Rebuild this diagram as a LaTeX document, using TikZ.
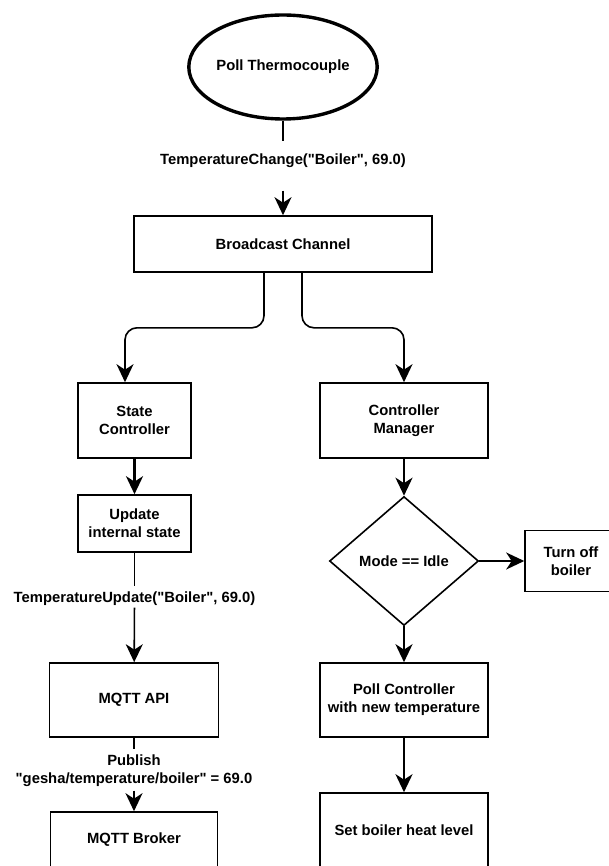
\documentclass[tikz,border=0pt]{standalone}
\usepackage{fontspec}
\setmainfont{Liberation Sans}
\usetikzlibrary{arrows.meta,shapes.geometric}

\begin{document}
\begin{tikzpicture}[x=1pt,y=-1pt,
    font=\fontsize{14.8}{18}\selectfont\bfseries,
    line width=1.6pt,
    box/.style={draw,rectangle,align=center,inner sep=0pt},
    elabel/.style={align=center,inner sep=1pt},
    link/.style={-{Stealth[length=18pt,width=17pt,inset=5.5pt]}},
    heavy/.style={link,line width=2.6pt}]
  \useasboundingbox (0,0) rectangle (609,866);
  % source of the readings
  \node[draw,ellipse,line width=3.4pt,inner sep=0pt,minimum width=187,minimum height=104] (poll) at (283,67) {Poll Thermocouple};
  \node[elabel] (tchange) at (283,161) {TemperatureChange(\textquotedbl Boiler\textquotedbl, 69.0)};
  \node[box,minimum width=298,minimum height=56] (bcast) at (283,244) {Broadcast Channel};
  % left branch
  \node[box,minimum width=113,minimum height=75] (state) at (134.5,420.5) {State\\Controller};
  \node[box,minimum width=113,minimum height=57] (update) at (134.5,523.5) {Update\\internal state};
  \node[elabel] (tupdate) at (134.5,599) {TemperatureUpdate(\textquotedbl Boiler\textquotedbl, 69.0)};
  \node[box,minimum width=169,minimum height=74] (mqttapi) at (134,700) {MQTT API};
  \node[elabel] (publish) at (134,771) {Publish\\\textquotedbl gesha/temperature/boiler\textquotedbl{} = 69.0};
  \node[box,minimum width=167,minimum height=56] (broker) at (134,840) {MQTT Broker};
  % right branch
  \node[box,minimum width=168,minimum height=75] (ctrlmgr) at (404,420.5) {Controller\\Manager};
  \node[draw,diamond,inner sep=0pt,minimum width=149,minimum height=129] (mode) at (404,561) {Mode == Idle};
  \node[box,minimum width=92,minimum height=61] (turnoff) at (571,561) {Turn off\\boiler};
  \node[box,minimum width=168,minimum height=74] (pollctrl) at (404,700) {Poll Controller\\with new temperature};
  \node[box,minimum width=168,minimum height=74] (setlevel) at (404,830) {Set boiler heat level};

  \draw[shorten >=11pt] (poll) -- (tchange);
  \draw[link,shorten <=21pt] (tchange) -- (bcast);
  \draw[link,rounded corners=12pt] ([xshift=-19pt]bcast.south) -- ++(0,55) -| ([xshift=-9.5pt]state.north);
  \draw[link,rounded corners=12pt] ([xshift=19pt]bcast.south) -- ++(0,55) -| (ctrlmgr.north);
  \draw[heavy] (state) -- (update);
  \draw[shorten >=4pt] (update) -- (tupdate);
  \draw[link] (tupdate) -- (mqttapi);
  \draw[shorten >=4pt] (mqttapi) -- (publish);
  \draw[link,shorten <=2pt] (publish) -- (broker);
  \draw[heavy] (ctrlmgr) -- (mode);
  \draw[link] (mode) -- (turnoff);
  \draw[heavy] (mode) -- (pollctrl);
  \draw[heavy] (pollctrl) -- (setlevel);
\end{tikzpicture}
\end{document}
